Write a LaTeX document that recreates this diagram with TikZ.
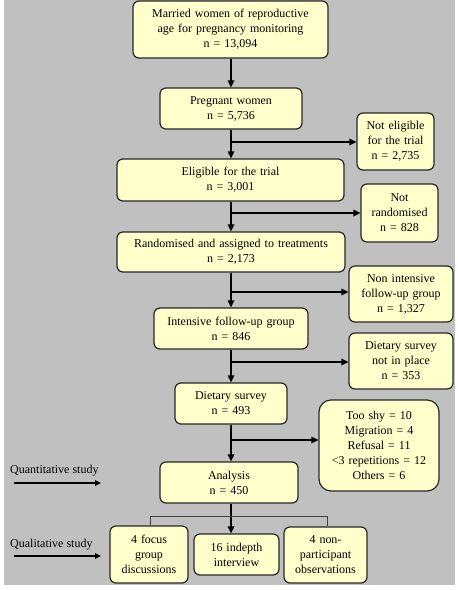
\documentclass[tikz,border=0pt]{standalone}
\usepackage{fontspec}
\setmainfont{Liberation Serif}
\usetikzlibrary{arrows.meta}
\definecolor{bggray}{HTML}{C0C0C0}
\definecolor{boxfill}{HTML}{FFFFCC}
\begin{document}
\begin{tikzpicture}[x=1pt,y=-1pt,
  box/.style={draw=black!85, line width=1.2pt, fill=boxfill, rounded corners=6pt,
    align=center, inner sep=0pt, font=\fontsize{12}{15}\selectfont},
  arr/.style={line width=1.6pt, -{Triangle[length=7pt,width=6.5pt]}},
  sidearr/.style={line width=1.3pt, -{Triangle[length=6pt,width=5.5pt]}},
  bracket/.style={line width=0.8pt, draw=black!75},
  sidetext/.style={anchor=west, inner sep=0pt, font=\fontsize{12}{15}\selectfont}]
\useasboundingbox (0,0) rectangle (458,590);
\fill[bggray] (4,0) rectangle (455,585);

\node[box, text width=195pt, minimum height=57pt] (b1) at (230.5,29.5)
  {Married women of reproductive\\age for pregnancy monitoring\\n = 13,094};
\node[box, text width=142pt, minimum height=41pt] (b2) at (231,108.5)
  {Pregnant women\\n = 5,736};
\node[box, text width=77pt, minimum height=57pt] (ne) at (395.5,141.5)
  {Not eligible\\for the trial\\n = 2,735};
\node[box, text width=227pt, minimum height=42pt] (b3) at (230.5,180)
  {Eligible for the trial\\n = 3,001};
\node[box, text width=77pt, minimum height=58pt] (nr) at (399.5,213)
  {Not\\randomised\\n = 828};
\node[box, text width=228pt, minimum height=40pt] (b4) at (231,252)
  {Randomised and assigned to treatments\\n = 2,173};
\node[box, text width=104pt, minimum height=56pt] (ni) at (401,294)
  {Non intensive\\follow-up group\\n = 1,327};
\node[box, text width=154pt, minimum height=41pt] (b5) at (231,328.5)
  {Intensive follow-up group\\n = 846};
\node[box, text width=104pt, minimum height=56pt] (dn) at (401,361)
  {Dietary survey\\not in place\\n = 353};
\node[box, text width=112pt, minimum height=41pt] (b6) at (231,403.5)
  {Dietary survey\\n = 493};
\node[box, rounded corners=12pt, text width=120pt, minimum height=91pt] (ts) at (379,445.5)
  {Too shy = 10\\Migration = 4\\Refusal = 11\\<3 repetitions = 12\\Others = 6};
\node[box, text width=138pt, minimum height=41pt] (b7) at (229,482.5)
  {Analysis\\n = 450};
\node[box, text width=78pt, minimum height=57pt] (fg) at (149,554.5)
  {4 focus\\group\\discussions};
\node[box, text width=85pt, minimum height=41pt] (id) at (236.5,554.5)
  {16 indepth\\interview};
\node[box, text width=83pt, minimum height=56pt] (np) at (325.5,555)
  {4 non-\\participant\\observations};

\coordinate (mx) at (231,0);
\coordinate (j1) at (231,142);
\coordinate (j2) at (231,213);
\coordinate (j3) at (231,292);
\coordinate (j4) at (231,362);
\coordinate (j5) at (231,440);

\draw[arr] (mx |- b1.south) -- (mx |- b2.north);
\draw[arr] (mx |- b2.south) -- (mx |- b3.north);
\draw[arr] (j1) -- (ne.west |- j1);
\draw[arr] (mx |- b3.south) -- (mx |- b4.north);
\draw[arr] (j2) -- (nr.west |- j2);
\draw[arr] (mx |- b4.south) -- (mx |- b5.north);
\draw[arr] (j3) -- (ni.west |- j3);
\draw[arr] (mx |- b5.south) -- (mx |- b6.north);
\draw[arr] (j4) -- (dn.west |- j4);
\draw[arr] (mx |- b6.south) -- (mx |- b7.north);
\draw[arr] (j5) -- (ts.west |- j5);
\draw[arr] (mx |- b7.south) -- (mx |- id.north);

\coordinate (bl) at (150,516);
\coordinate (br) at (327,516);
\draw[bracket] (fg.north -| bl) -- (bl) -- (br) -- (np.north -| br);

\node[sidetext] (qt) at (10,471) {Quantitative study};
\coordinate (qa1) at (14,483);
\coordinate (qa2) at (101,483);
\draw[sidearr] (qa1) -- (qa2);
\node[sidetext] (ql) at (10,545) {Qualitative study};
\coordinate (qb1) at (14,556);
\coordinate (qb2) at (101,556);
\draw[sidearr] (qb1) -- (qb2);
\end{tikzpicture}
\end{document}
